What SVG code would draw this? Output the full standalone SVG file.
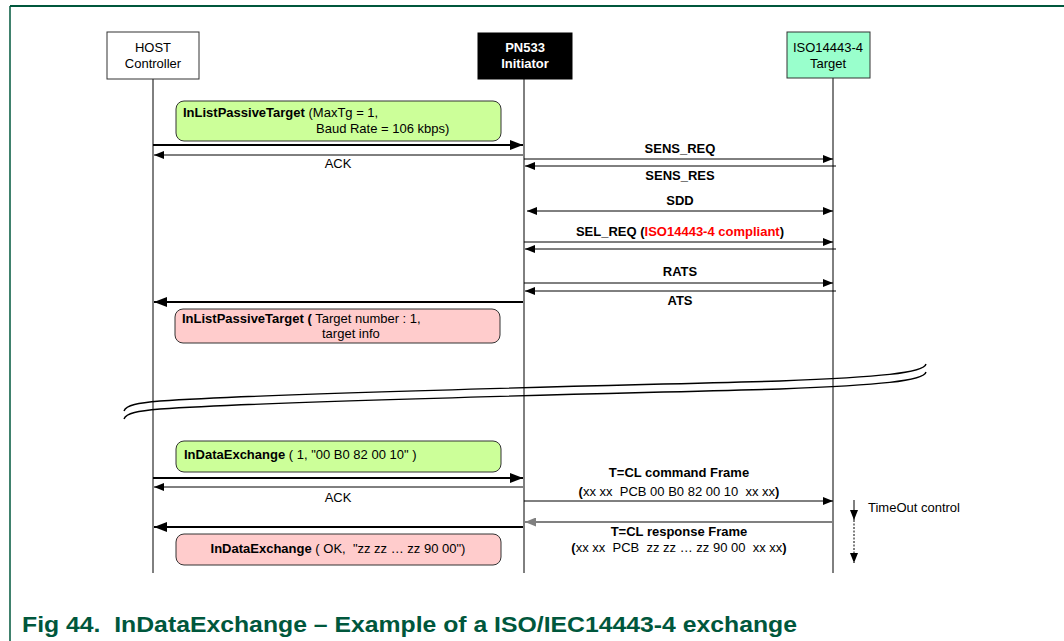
<svg xmlns="http://www.w3.org/2000/svg" width="1064" height="641" viewBox="0 0 1064 641">
<style>
text{font-family:"Liberation Sans",Arial,sans-serif;font-size:13px;fill:#000}
.b{font-weight:bold}
.c{text-anchor:middle}
.life{stroke:#000;stroke-width:1}
.thin{stroke:#000;stroke-width:1;fill:none}
.thick{stroke:#000;stroke-width:2;fill:none}
.gray{stroke:#808080;stroke-width:2;fill:none}
.msg{stroke:#333;stroke-width:1}
.brk{stroke:#000;stroke-width:1.4;fill:none}
</style>
<defs>
<marker id="ah" markerUnits="userSpaceOnUse" markerWidth="10" markerHeight="8" refX="10" refY="4" orient="auto-start-reverse"><path d="M0,0 L10,4 L0,8 Z" fill="#000"/></marker>
<marker id="ahT" markerUnits="userSpaceOnUse" markerWidth="13" markerHeight="10" refX="13" refY="5" orient="auto-start-reverse"><path d="M0,0 L13,5 L0,10 Z" fill="#000"/></marker>
<marker id="ahG" markerUnits="userSpaceOnUse" markerWidth="11" markerHeight="9" refX="11" refY="4.5" orient="auto-start-reverse"><path d="M0,0 L11,4.5 L0,9 Z" fill="#808080"/></marker>
</defs>
<rect width="1064" height="641" fill="#fff"/>
<g id="frame">
<line x1="10" y1="6" x2="1064" y2="6" stroke="#00573c" stroke-width="2"/>
<line x1="10" y1="6" x2="10" y2="641" stroke="#00573c" stroke-width="1.5"/>
</g>
<g id="lifelines">
<line class="life" x1="153" y1="79" x2="153" y2="573"/>
<line class="life" x1="524" y1="79" x2="524" y2="573"/>
<line class="life" x1="833" y1="78" x2="833" y2="573"/>
</g>
<g id="host">
<rect x="107" y="32" width="92" height="47" fill="#fff" stroke="#333"/>
<text class="c" x="153" y="52">HOST</text>
<text class="c" x="153" y="68">Controller</text>
</g>
<g id="pn533">
<rect x="478" y="33" width="94" height="46" fill="#000" stroke="#000"/>
<text class="c b" x="525" y="52" style="fill:#fff">PN533</text>
<text class="c b" x="525" y="68" style="fill:#fff">Initiator</text>
</g>
<g id="target">
<rect x="787" y="32" width="83" height="46" fill="#99ffcc" stroke="#333"/>
<text class="c" x="828" y="52">ISO14443-4</text>
<text class="c" x="828" y="68">Target</text>
</g>
<g id="msg1">
<rect class="msg" x="176" y="101" width="325" height="40" rx="8" fill="#ccff99"/>
<text x="183" y="117" xml:space="preserve"><tspan class="b">InListPassiveTarget</tspan> (MaxTg = 1,</text>
<text x="316" y="133">Baud Rate = 106 kbps)</text>
</g>
<g id="msg2">
<rect class="msg" x="175" y="309" width="325" height="34" rx="8" fill="#ffcccc"/>
<text x="182" y="323" xml:space="preserve"><tspan class="b">InListPassiveTarget (</tspan> Target number : 1,</text>
<text x="322" y="338">target info</text>
</g>
<g id="msg3">
<rect class="msg" x="176" y="441" width="325" height="31" rx="8" fill="#ccff99"/>
<text x="184" y="459" xml:space="preserve"><tspan class="b">InDataExchange</tspan> ( 1, "00 B0 82 00 10" )</text>
</g>
<g id="msg4">
<rect class="msg" x="176" y="534" width="325" height="31" rx="8" fill="#ffcccc"/>
<text class="c" x="338" y="553" xml:space="preserve"><tspan class="b">InDataExchange</tspan> ( OK,  "zz zz … zz 90 00")</text>
</g>
<g id="connectors">
<line class="thick" x1="153" y1="145" x2="523" y2="145" marker-end="url(#ahT)"/>
<line class="thin" x1="523" y1="155" x2="154" y2="155" marker-end="url(#ah)"/>
<line class="thin" x1="524" y1="159" x2="833" y2="159" marker-end="url(#ah)"/>
<line class="thin" x1="836" y1="166" x2="525" y2="166" marker-end="url(#ah)"/>
<line class="thin" x1="527" y1="211" x2="833" y2="211" marker-start="url(#ah)" marker-end="url(#ah)"/>
<line class="thin" x1="524" y1="242" x2="833" y2="242" marker-end="url(#ah)"/>
<line class="thin" x1="836" y1="249" x2="525" y2="249" marker-end="url(#ah)"/>
<line class="thin" x1="524" y1="283" x2="833" y2="283" marker-end="url(#ah)"/>
<line class="thin" x1="836" y1="291" x2="525" y2="291" marker-end="url(#ah)"/>
<line class="thick" x1="523" y1="302" x2="154" y2="302" marker-end="url(#ahT)"/>
<line class="thick" x1="153" y1="478" x2="523" y2="478" marker-end="url(#ahT)"/>
<line class="thin" x1="523" y1="487" x2="154" y2="487" marker-end="url(#ah)"/>
<line class="thin" x1="524" y1="501" x2="833" y2="501" marker-end="url(#ah)"/>
<line class="gray" x1="834" y1="522" x2="525" y2="522" marker-end="url(#ahG)"/>
<line class="thick" x1="523" y1="527" x2="154" y2="527" marker-end="url(#ahT)"/>
<line class="thin" x1="854" y1="500" x2="854" y2="520" marker-end="url(#ah)"/>
<line x1="854" y1="520" x2="854" y2="563" stroke="#000" stroke-width="1" stroke-dasharray="2,1.5" marker-end="url(#ah)"/>
</g>
<g id="labels">
<text class="c" x="338" y="168">ACK</text>
<text class="c b" x="680" y="153">SENS_REQ</text>
<text class="c b" x="680" y="180">SENS_RES</text>
<text class="c b" x="680" y="205">SDD</text>
<text class="c b" x="680" y="236"><tspan>SEL_REQ (</tspan><tspan style="fill:#ff0000">ISO14443-4 compliant</tspan><tspan>)</tspan></text>
<text class="c b" x="680" y="276">RATS</text>
<text class="c b" x="680" y="305">ATS</text>
<text class="c" x="338" y="502">ACK</text>
<text class="c b" x="679" y="477">T=CL command Frame</text>
<text class="c" x="679" y="496" xml:space="preserve"><tspan class="b">(</tspan>xx xx  PCB 00 B0 82 00 10  xx xx<tspan class="b">)</tspan></text>
<text class="c b" x="679" y="536">T=CL response Frame</text>
<text class="c" x="679" y="552" xml:space="preserve"><tspan class="b">(</tspan>xx xx  PCB  zz zz … zz 90 00  xx xx<tspan class="b">)</tspan></text>
<text x="868" y="512">TimeOut control</text>
</g>
<g id="break">
<path class="brk" d="M124,411 C126,405 138,403 160,401 C300,392 600,386 780,381 C880,377 924,373 926,364"/>
<path class="brk" d="M124,419 C126,413 138,411 160,409 C300,400 600,394 780,389 C880,385 924,381 926,372"/>
</g>
<text x="22" y="632" class="b" style="font-size:22px;fill:#00573c" textLength="775" lengthAdjust="spacingAndGlyphs" xml:space="preserve">Fig 44.  InDataExchange – Example of a ISO/IEC14443-4 exchange</text>
</svg>
